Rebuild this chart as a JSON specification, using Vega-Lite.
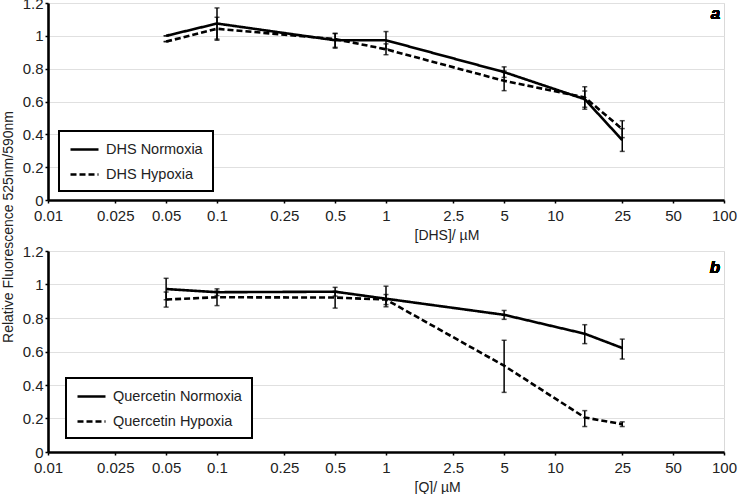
{
  "$schema": "https://vega.github.io/schema/vega-lite/v6.json",
  "padding": {"left": 1, "top": -5, "right": 5, "bottom": 0},
  "background": "white",
  "title": {"text": "Relative Fluorescence 525nm/590nm", "orient": "left", "anchor": "middle", "fontSize": 14, "fontWeight": "normal", "color": "#222", "offset": 6, "dx": 18},
  "datasets": {
    "dhs": [
      {"series": "DHS Normoxia", "conc": 0.05, "value": 1.0, "lo": 1.0, "hi": 1.0},
      {"series": "DHS Normoxia", "conc": 0.1, "value": 1.075, "lo": 0.98, "hi": 1.17},
      {"series": "DHS Normoxia", "conc": 0.5, "value": 0.973, "lo": 0.93, "hi": 1.015},
      {"series": "DHS Normoxia", "conc": 1, "value": 0.973, "lo": 0.92, "hi": 1.026},
      {"series": "DHS Normoxia", "conc": 5, "value": 0.779, "lo": 0.747, "hi": 0.811},
      {"series": "DHS Normoxia", "conc": 15, "value": 0.614, "lo": 0.565, "hi": 0.664},
      {"series": "DHS Normoxia", "conc": 25, "value": 0.365, "lo": 0.296, "hi": 0.435},
      {"series": "DHS Hypoxia", "conc": 0.05, "value": 0.965, "lo": 0.965, "hi": 0.965},
      {"series": "DHS Hypoxia", "conc": 0.1, "value": 1.043, "lo": 0.973, "hi": 1.113},
      {"series": "DHS Hypoxia", "conc": 0.5, "value": 0.98, "lo": 0.925, "hi": 1.014},
      {"series": "DHS Hypoxia", "conc": 1, "value": 0.918, "lo": 0.885, "hi": 0.951},
      {"series": "DHS Hypoxia", "conc": 5, "value": 0.726, "lo": 0.666, "hi": 0.786},
      {"series": "DHS Hypoxia", "conc": 15, "value": 0.625, "lo": 0.553, "hi": 0.69},
      {"series": "DHS Hypoxia", "conc": 25, "value": 0.432, "lo": 0.38, "hi": 0.483}
    ],
    "q": [
      {"series": "Quercetin Normoxia", "conc": 0.05, "value": 0.973, "lo": 0.909, "hi": 1.037},
      {"series": "Quercetin Normoxia", "conc": 0.1, "value": 0.954, "lo": 0.934, "hi": 0.974},
      {"series": "Quercetin Normoxia", "conc": 0.5, "value": 0.957, "lo": 0.931, "hi": 0.983},
      {"series": "Quercetin Normoxia", "conc": 1, "value": 0.915, "lo": 0.867, "hi": 0.99},
      {"series": "Quercetin Normoxia", "conc": 5, "value": 0.819, "lo": 0.792, "hi": 0.845},
      {"series": "Quercetin Normoxia", "conc": 15, "value": 0.706, "lo": 0.647, "hi": 0.76},
      {"series": "Quercetin Normoxia", "conc": 25, "value": 0.621, "lo": 0.555, "hi": 0.674},
      {"series": "Quercetin Hypoxia", "conc": 0.05, "value": 0.91, "lo": 0.865, "hi": 0.955},
      {"series": "Quercetin Hypoxia", "conc": 0.1, "value": 0.924, "lo": 0.874, "hi": 0.96},
      {"series": "Quercetin Hypoxia", "conc": 0.5, "value": 0.922, "lo": 0.859, "hi": 0.96},
      {"series": "Quercetin Hypoxia", "conc": 1, "value": 0.91, "lo": 0.88, "hi": 0.94},
      {"series": "Quercetin Hypoxia", "conc": 5, "value": 0.515, "lo": 0.356, "hi": 0.667},
      {"series": "Quercetin Hypoxia", "conc": 15, "value": 0.206, "lo": 0.152, "hi": 0.247},
      {"series": "Quercetin Hypoxia", "conc": 25, "value": 0.166, "lo": 0.152, "hi": 0.18}
    ]
  },
  "vconcat": [
    {
      "width": 676,
      "height": 197,
      "data": {"name": "dhs"},
      "encoding": {
        "x": {"type": "quantitative", "scale": {"type": "log", "domain": [0.01, 100], "nice": false},
          "axis": {"title": "[DHS]/ µM", "values": [0.01, 0.025, 0.05, 0.1, 0.25, 0.5, 1, 2.5, 5, 10, 25, 50, 100], "tickCount": 20, "format": "~g", "grid": false, "labelOverlap": false, "labelFlush": false, "labelPadding": 5, "titleAlign": "left", "titleX": 366, "titlePadding": 5}}
      },
      "layer": [
        {
          "mark": {"type": "errorbar", "color": "black", "thickness": 1.5, "ticks": {"size": 5, "thickness": 1.5}},
          "encoding": {
            "x": {"field": "conc", "type": "quantitative"},
            "y": {"field": "lo", "type": "quantitative", "scale": {"domain": [0, 1.2], "nice": false},
              "axis": {"title": null, "values": [0, 0.2, 0.4, 0.6, 0.8, 1, 1.2], "tickCount": 10, "format": "~g", "grid": true, "labelOverlap": false}},
            "y2": {"field": "hi"}
          }
        },
        {
          "mark": {"type": "line", "color": "black", "strokeWidth": 2.6},
          "encoding": {
            "x": {"field": "conc", "type": "quantitative"},
            "y": {"field": "value", "type": "quantitative"},
            "strokeDash": {"field": "series", "type": "nominal",
              "scale": {"domain": ["DHS Normoxia", "DHS Hypoxia"], "range": [[1, 0], [6, 3]]},
              "legend": {"title": null, "orient": "none", "legendX": 11, "legendY": 128}}
          }
        },
        {
          "mark": {"type": "text", "text": "a", "fontSize": 17, "fontWeight": "bold", "fontStyle": "italic", "align": "right", "baseline": "middle", "color": "black"},
          "encoding": {"x": {"datum": 95, "type": "quantitative"}, "y": {"datum": 1.135, "type": "quantitative"}}
        }
      ]
    },
    {
      "width": 676,
      "height": 201,
      "data": {"name": "q"},
      "encoding": {
        "x": {"type": "quantitative", "scale": {"type": "log", "domain": [0.01, 100], "nice": false},
          "axis": {"title": "[Q]/ µM", "values": [0.01, 0.025, 0.05, 0.1, 0.25, 0.5, 1, 2.5, 5, 10, 25, 50, 100], "tickCount": 20, "format": "~g", "grid": false, "labelOverlap": false, "labelFlush": false, "labelPadding": 5, "titleAlign": "left", "titleX": 366, "titlePadding": 5}}
      },
      "layer": [
        {
          "mark": {"type": "errorbar", "color": "black", "thickness": 1.5, "ticks": {"size": 5, "thickness": 1.5}},
          "encoding": {
            "x": {"field": "conc", "type": "quantitative"},
            "y": {"field": "lo", "type": "quantitative", "scale": {"domain": [0, 1.2], "nice": false},
              "axis": {"title": null, "values": [0, 0.2, 0.4, 0.6, 0.8, 1, 1.2], "tickCount": 10, "format": "~g", "grid": true, "labelOverlap": false}},
            "y2": {"field": "hi"}
          }
        },
        {
          "mark": {"type": "line", "color": "black", "strokeWidth": 2.6},
          "encoding": {
            "x": {"field": "conc", "type": "quantitative"},
            "y": {"field": "value", "type": "quantitative"},
            "strokeDash": {"field": "series", "type": "nominal",
              "scale": {"domain": ["Quercetin Normoxia", "Quercetin Hypoxia"], "range": [[1, 0], [6, 3]]},
              "legend": {"title": null, "orient": "none", "legendX": 18, "legendY": 127}}
          }
        },
        {
          "mark": {"type": "text", "text": "b", "fontSize": 17, "fontWeight": "bold", "fontStyle": "italic", "align": "right", "baseline": "middle", "color": "black"},
          "encoding": {"x": {"datum": 95, "type": "quantitative"}, "y": {"datum": 1.1, "type": "quantitative"}}
        }
      ]
    }
  ],
  "spacing": 0,
  "resolve": {"scale": {"strokeDash": "independent"}, "legend": {"strokeDash": "independent"}},
  "config": {
    "font": "Liberation Sans",
    "view": {"stroke": "#d9d9d9"},
    "axis": {
      "labelFontSize": 15, "labelColor": "#222", "labelPadding": 2, "labelOverlap": false,
      "titleFontSize": 14, "titleFontWeight": "normal", "titleColor": "#222",
      "domainColor": "black", "domainWidth": 2.6,
      "tickColor": "black", "tickSize": 3, "tickWidth": 1.5,
      "gridColor": "#e0e0e0", "gridWidth": 1
    },
    "legend": {
      "strokeColor": "black", "strokeWidth": 2, "fillColor": "white", "padding": 10,
      "labelFontSize": 14.5, "labelColor": "#222", "labelOffset": 20,
      "symbolType": "M-1,0H3", "symbolSize": 196, "symbolStrokeWidth": 2.6, "symbolStrokeColor": "black",
      "rowPadding": 10
    }
  }
}
